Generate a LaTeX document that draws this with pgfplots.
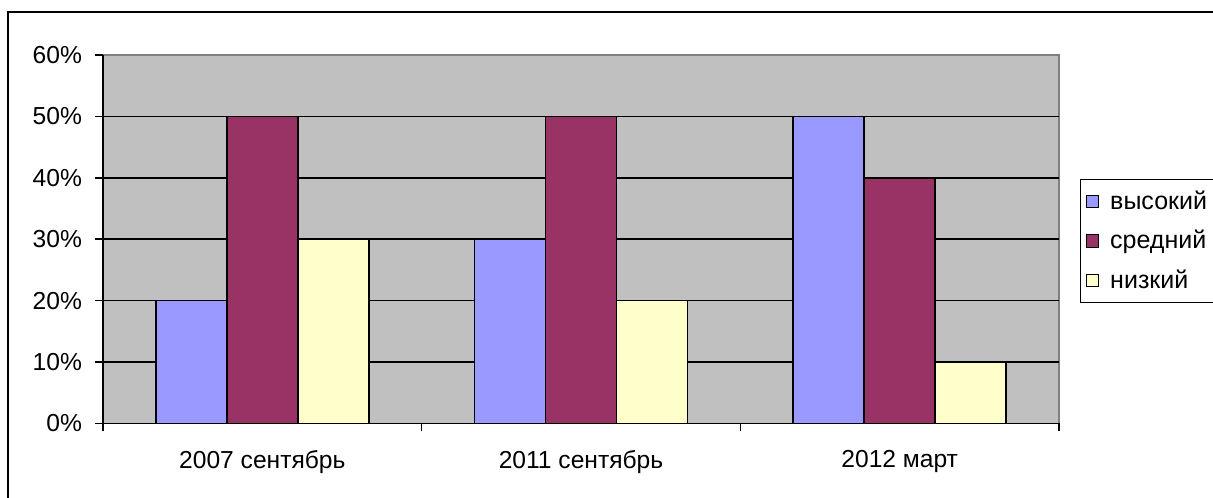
\documentclass[border=0pt]{standalone}
\usepackage{fontspec}
\setmainfont{Liberation Sans}
\usepackage{pgfplots}
\pgfplotsset{compat=1.18}
\definecolor{cblue}{HTML}{9999FF}
\definecolor{cred}{HTML}{993366}
\definecolor{cyel}{HTML}{FFFFCC}
\definecolor{cbg}{HTML}{C0C0C0}
\definecolor{cborder}{HTML}{808080}
\begin{document}
\begin{tikzpicture}
\useasboundingbox (0,0) rectangle (606.5pt,248.5pt);
\draw[line width=1pt] (4pt,-5pt) -- (4pt,242.5pt) -- (612pt,242.5pt);
\begin{axis}[
  at={(51.5pt,36.75pt)}, anchor=south west,
  scale only axis, width=478pt, height=184.25pt,
  xmin=-0.5, xmax=2.5, ymin=0, ymax=0.6,
  ybar=0pt, bar width=35.5pt,
  axis background/.style={fill=cbg, draw=cborder, line width=0.8pt},
  axis x line*=bottom, axis y line*=left,
  axis line style={black, line width=0.9pt, -},
  tick align=outside,
  major tick length=4pt,
  tick style={black, line width=0.8pt},
  xtick={-0.5,0.5,1.5,2.5}, xticklabels={},
  extra x ticks={0,1,2},
  extra x tick labels={2007 сентябрь,2011 сентябрь,2012 март},
  extra x tick style={major tick length=0pt, grid=none, xticklabel style={yshift=-10pt}},
  ytick={0,0.1,0.2,0.3,0.4,0.5},
  yticklabels={0\%,10\%,20\%,30\%,40\%,50\%},
  extra y ticks={0.6}, extra y tick labels={60\%},
  extra y tick style={grid=none},
  ymajorgrids, major grid style={black, line width=0.8pt},
  tick label style={font=\fontsize{12.3}{14}\selectfont, text=black},
  yticklabel style={xshift=-3pt},
  legend style={at={(1.022,0.6635)}, anchor=north west, draw=black, line width=0.6pt,
    fill=white, font=\fontsize{12.5}{14}\selectfont, row sep=5pt, column sep=3.5pt,
    inner xsep=2.5pt, inner ysep=3.5pt},
  legend cell align=left,
  every axis plot post/.append style={
    legend image code/.code={\draw[##1, draw=black, line width=0.6pt] (0pt,-3.1pt) rectangle (6.2pt,3.1pt);}},
]
\addplot[fill=cblue, draw=black, line width=0.8pt] coordinates {(0,0.2) (1,0.3) (2,0.5)};
\addplot[fill=cred, draw=black, line width=0.8pt] coordinates {(0,0.5) (1,0.5) (2,0.4)};
\addplot[fill=cyel, draw=black, line width=0.8pt] coordinates {(0,0.3) (1,0.2) (2,0.1)};
\legend{высокий,средний,низкий}
\end{axis}
\end{tikzpicture}
\end{document}
